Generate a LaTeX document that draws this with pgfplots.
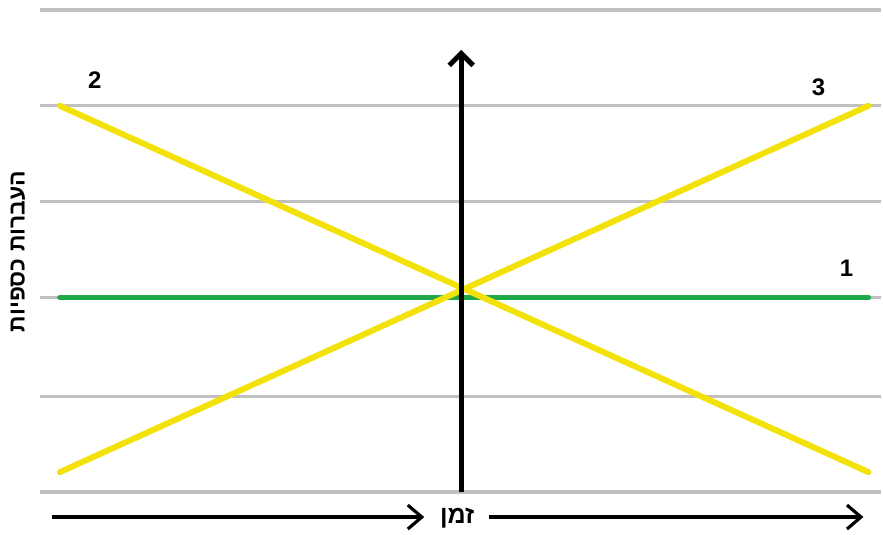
\documentclass[border=0pt]{standalone}
\usepackage{pgfplots}
\pgfplotsset{compat=1.18}
\usetikzlibrary{arrows.meta}
\usepackage{fontspec}
\setmainfont{Liberation Sans}
\newfontfamily\hebfont[Script=Hebrew]{Liberation Sans}
\TeXXeTstate=1
\definecolor{gridgray}{RGB}{192,192,192}
\definecolor{lineyellow}{RGB}{242,226,10}
\definecolor{linegreen}{RGB}{30,168,74}
\begin{document}
\begin{tikzpicture}
\begin{axis}[
    scale only axis,
    width=441.5pt, height=265.5pt,
    xmin=0, xmax=883,
    ymin=0, ymax=531,
    hide axis,
    clip=false,
]
\path (axis cs:0,0) rectangle (axis cs:883,531);
% gridlines
\pgfplotsinvokeforeach{38,134,233,329,425,521}{
  \addplot[gridgray, line width=1.6pt] coordinates {(40,#1) (883,#1)};
}
% series
\addplot[linegreen, line width=2.8pt, line cap=round] coordinates {(60,233) (870,233)};
\addplot[lineyellow, line width=3pt, line cap=round] coordinates {(60,425) (870,58)};
\addplot[lineyellow, line width=3pt, line cap=round] coordinates {(60,58) (870,425)};
% vertical axis arrow
\draw[line width=2.5pt, -{Straight Barb[length=6pt,width=12pt]}] (axis cs:462,38) -- (axis cs:462,481);
% labels
\node[font=\fontsize{12}{14}\selectfont\bfseries] at (axis cs:95,451) {2};
\node[font=\fontsize{12}{14}\selectfont\bfseries] at (axis cs:820,444) {3};
\node[font=\fontsize{12}{14}\selectfont\bfseries] at (axis cs:848,262) {1};
% y label
\node[rotate=90, font=\fontsize{11.5}{13}\selectfont\bfseries] at (axis cs:18,279) {\hebfont\beginR העברות כספיות\endR};
% time arrows
\draw[line width=1.6pt, -{Straight Barb[length=7pt,width=12pt]}] (axis cs:52,13) -- (axis cs:425,13);
\node[font=\fontsize{12.5}{14}\selectfont\bfseries] at (axis cs:458,12) {\hebfont\beginR זמן\endR};
\draw[line width=1.6pt, -{Straight Barb[length=7pt,width=12pt]}] (axis cs:490,13) -- (axis cs:865,13);
\end{axis}
\end{tikzpicture}
\end{document}
